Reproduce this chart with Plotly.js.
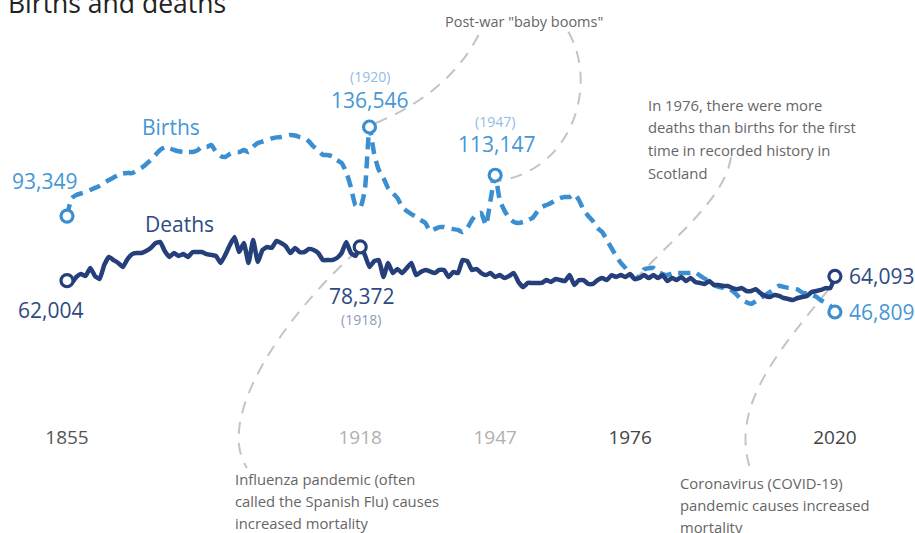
<!DOCTYPE html>
<html><head><meta charset="utf-8">
<script src="https://cdn.plot.ly/plotly-3.0.1.min.js"></script>
<style>html,body{margin:0;padding:0;background:#fff;overflow:hidden}#chart{width:915px;height:533px}</style>
</head><body><div id="chart"></div>
<script>
const startYear = 1855;
const births = [
93349,102000,103600,104300,105000,106000,107000,108000,109500,110800,
112000,113200,114000,114200,114200,115500,116700,118500,120500,123000,
125400,126700,126200,125400,124800,124400,124400,124400,125200,127000,
126800,127800,124500,122500,122000,123500,124400,124400,125400,124400,
127000,128800,129500,130200,131000,131500,131700,132200,132700,132400,
131700,131200,129500,127000,125000,123000,123000,122300,120500,119100,
114700,107400,98500,97500,106000,136546,123500,115700,111800,106900,
104500,102100,97700,95800,94300,92900,91400,90000,86000,87000,
88000,88000,87500,87000,86600,85600,87500,91400,94300,94800,
89000,101000,113147,101000,96000,92400,90500,90000,90500,91400,
92400,95300,97700,98700,99700,101100,102100,102600,102600,104000,
101100,96300,93400,90900,87500,85600,81700,77800,73900,70600,
68100,64900,62800,64300,67500,68000,68200,66200,65200,64700,
65500,65700,65700,65700,65700,66000,64500,63000,62000,60000,
59000,58600,58500,57000,55000,52500,51500,50800,52000,53500,
55000,56500,58000,59500,59000,58500,58300,57700,56200,55800,
55200,54200,52500,51300,49800,46809];
const deaths = [
62004,60900,63800,65200,64300,68200,64300,62800,69600,73500,
72000,70600,68600,72500,74900,75400,75400,76400,77800,80200,
80800,76400,73500,75400,74000,74900,73500,75900,75900,75900,
74900,74500,74000,70600,74500,79300,83200,75900,80300,70600,
81700,71100,76900,78300,77900,81300,80300,78800,75400,77900,
75900,75900,77400,76900,75400,72000,72000,72000,73000,75400,
80800,75400,74000,78372,74500,68600,71500,72000,63800,70600,
65700,67700,65700,68100,70600,64700,66200,67200,66500,65700,
67200,67200,63800,66200,65700,72000,71500,67200,67700,65700,
64700,65700,63800,64700,63300,64300,65700,61400,58900,60900,
60900,60900,60900,62300,61400,62800,62300,61800,64700,59900,
62300,62300,60400,60400,62300,63300,62300,64700,63800,64700,
63800,65300,62800,63300,64700,63300,64700,63300,64700,61800,
63300,62300,63800,61800,63300,61400,60900,60400,61800,59900,
59900,59400,59400,58400,57900,58400,57000,57000,57900,56000,
54600,54100,55100,54600,53600,53100,52600,53600,54100,54600,
56500,57000,57500,58400,58400,64093];
const years = births.map((_, i) => startYear + i);

const tickYears = [1855, 1918, 1947, 1976, 2020];
const tickColors = ['#555555', '#b0b0b0', '#b0b0b0', '#444444', '#444444'];
const birthHighlights = [1855, 1920, 1947, 2020];
const deathHighlights = [1855, 1918, 2020];

const titleText = 'Births and deaths';
const noteBabyBoom = ['Post-war "baby booms"'];
const note1976 = ['In 1976, there were more', 'deaths than births for the first', 'time in recorded history in', 'Scotland'];
const noteFlu = ['Influenza pandemic (often', 'called the Spanish Flu) causes', 'increased mortality'];
const noteCovid = ['Coronavirus (COVID-19)', 'pandemic causes increased', 'mortality'];

const FONT = '"Open Sans", "Noto Sans", sans-serif';
const BIRTH = '#3b8fd1';
const BIRTH_TXT = '#4597d6';
const BIRTH_LIGHT = '#8fbde6';
const DEATH = '#243f7a';
const DEATH_TXT = '#2e4a82';
const DEATH_LIGHT = '#8e9aba';
const NOTE = '#666666';
const LEADER = '#c4c4c4';

const W = 915, H = 533;
const pxPerYear = 4.654, x0px = 67;
const pxPerUnit = 0.0020616, y0px = 408.5;
const xRange = [startYear - x0px / pxPerYear, startYear + (W - x0px) / pxPerYear];
const yRange = [-(H - y0px) / pxPerUnit, y0px / pxPerUnit];

const val = (arr, yr) => arr[yr - startYear];
const fmt = v => v.toLocaleString('en-US');

const traces = [
  {x: years, y: births, type: 'scatter', mode: 'lines', name: 'Births',
   line: {color: BIRTH, width: 4.5, dash: '12px,7px', shape: 'spline', smoothing: 0.5}, hoverinfo: 'x+y'},
  {x: years, y: deaths, type: 'scatter', mode: 'lines', name: 'Deaths',
   line: {color: DEATH, width: 4.5, shape: 'spline', smoothing: 0.4}, hoverinfo: 'x+y'},
  {x: birthHighlights, y: birthHighlights.map(y => val(births, y)), type: 'scatter', mode: 'markers',
   marker: {size: 12, color: '#ffffff', line: {color: BIRTH, width: 3.2}}, hoverinfo: 'skip', cliponaxis: false},
  {x: deathHighlights, y: deathHighlights.map(y => val(deaths, y)), type: 'scatter', mode: 'markers',
   marker: {size: 12, color: '#ffffff', line: {color: DEATH, width: 3.2}}, hoverinfo: 'skip', cliponaxis: false}
];

const ann = [];
function label(x, y, text, color, size, xs, ys, xanchor) {
  ann.push({x, y, xref: 'x', yref: 'y', text, showarrow: false, xanchor: xanchor || 'center', yanchor: 'middle',
    xshift: xs, yshift: ys, font: {family: FONT, size, color}});
}
label(1855, val(births, 1855), fmt(val(births, 1855)), BIRTH_TXT, 21, -23, 35);
label(1920, val(births, 1920), fmt(val(births, 1920)), BIRTH_TXT, 21, 0, 27);
label(1920, val(births, 1920), '(1920)', BIRTH_LIGHT, 14, 0, 51);
label(1947, val(births, 1947), fmt(val(births, 1947)), BIRTH_TXT, 21, 1, 31);
label(1947, val(births, 1947), '(1947)', BIRTH_LIGHT, 14, 0, 54);
label(2020, val(births, 2020), fmt(val(births, 2020)), BIRTH_TXT, 21, 12, 0, 'left');
label(1855, val(deaths, 1855), fmt(val(deaths, 1855)), DEATH_TXT, 21, -17, -29);
label(1918, val(deaths, 1918), fmt(val(deaths, 1918)), DEATH_TXT, 21, 1, -49);
label(1918, val(deaths, 1918), '(1918)', DEATH_LIGHT, 14, 1, -73);
label(2020, val(deaths, 2020), fmt(val(deaths, 2020)), DEATH_TXT, 21, 12, 0, 'left');

function paperText(px, py, text, color, size, xanchor) {
  ann.push({x: px / W, y: 1 - py / H, xref: 'paper', yref: 'paper', text, showarrow: false,
    xanchor: xanchor || 'left', yanchor: 'middle', font: {family: FONT, size, color}});
}
paperText(171, 127, 'Births', BIRTH_TXT, 21, 'center');
paperText(179, 224, 'Deaths', DEATH_TXT, 21, 'center');
paperText(6, 3, titleText, '#222222', 26.5, 'left');
noteBabyBoom.forEach((t, i) => paperText(524, 21 + i * 22.5, t, NOTE, 14.5, 'center'));
note1976.forEach((t, i) => paperText(646, 105 + i * 22.5, t, NOTE, 14.8, 'left'));
noteFlu.forEach((t, i) => paperText(233, 479 + i * 22, t, NOTE, 14.8, 'left'));
noteCovid.forEach((t, i) => paperText(678, 483 + i * 22, t, NOTE, 14.8, 'left'));

function curve(p) {
  return {type: 'path', xref: 'x', yref: 'y', layer: 'below',
    path: `M ${p[0]},${p[1]} C ${p[2]},${p[3]} ${p[4]},${p[5]} ${p[6]},${p[7]}`,
    line: {color: LEADER, width: 2, dash: '12px,9px'}};
}
const shapes = [
  curve([1917.31, 76397, 1900.77, 42928, 1886.80, -5578, 1893.68, -28861]),
  curve([1921.39, 138485, 1930.85, 147216, 1939.44, 161768, 1943.96, 183595]),
  curve([1945.89, 109866, 1964.15, 113262, 1969.52, 159342, 1962.22, 184565]),
  curve([1997.67, 121993, 1996.38, 101135, 1984.57, 81733, 1977.05, 62330]),
  curve([2018.52, 57480, 2008.20, 28376, 1997.46, 1698, 2001.75, -28861])
];

const layout = {
  width: W, height: H, margin: {l: 0, r: 0, t: 0, b: 0, pad: 0},
  paper_bgcolor: '#ffffff', plot_bgcolor: '#ffffff', showlegend: false,
  xaxis: {range: xRange, showgrid: false, zeroline: false, showline: false, ticks: '',
    tickvals: tickYears, ticktext: tickYears.map((y, i) => `<span style="color:${tickColors[i]}">${y}</span>`),
    tickfont: {family: FONT, size: 19, color: '#555'}, anchor: 'free', position: 1 - 424 / H, automargin: false, fixedrange: true},
  yaxis: {range: yRange, visible: false, fixedrange: true},
  annotations: ann, shapes: shapes
};
Plotly.newPlot('chart', traces, layout, {displayModeBar: false, staticPlot: true});
</script></body></html>
